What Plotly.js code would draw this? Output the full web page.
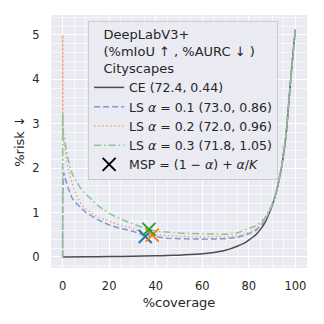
<!DOCTYPE html>
<html><head><meta charset="utf-8">
<script src="https://cdn.plot.ly/plotly-3.0.1.min.js"></script>
<style>html,body{margin:0;padding:0;background:#fff}</style>
</head><body><div id="chart" style="width:324px;height:324px"></div>
<script>
// CE curve
const ceX = [0,10,20,30,40,45,50,55,60,65,68,70,72,75,78,80,83,85,87,90,92,94,96,98,99,100];
const ceY = [0,0.003,0.008,0.015,0.025,0.032,0.04,0.053,0.07,0.1,0.125,0.15,0.18,0.24,0.31,0.38,0.5,0.62,0.78,1.15,1.5,2.0,2.75,4.0,4.6,5.12];
// LS alpha = 0.1
const ls1X = [0,0.05,0.5,1,2,4,6,8,10,15,20,25,30,35,40,45,50,60,70,75,80,83,85,87,90,92,94,96,98,99,100];
const ls1Y = [0,1.4,1.9,1.8,1.6,1.33,1.2,1.1,1.0,0.84,0.72,0.64,0.58,0.49,0.45,0.42,0.41,0.40,0.41,0.44,0.52,0.6,0.7,0.82,1.15,1.5,2.0,2.75,4.0,4.6,5.12];
// LS alpha = 0.2
const ls2X = [0,0.02,0.1,0.5,1,2,3,5,8,10,15,20,25,30,35,40,45,50,60,70,75,80,83,85,87,90,92,94,96,98,99,100];
const ls2Y = [0,5.0,2.8,2.6,2.42,2.1,1.85,1.5,1.18,1.08,0.9,0.8,0.71,0.65,0.54,0.5,0.48,0.46,0.45,0.45,0.47,0.55,0.63,0.72,0.84,1.15,1.5,2.0,2.75,4.0,4.6,5.12];
// LS alpha = 0.3
const ls3X = [0,0.02,0.3,0.6,1,2,3.5,5,8,10,15,20,25,30,35,40,45,50,60,70,75,80,83,85,87,90,92,94,96,98,99,100];
const ls3Y = [0,3.25,2.8,2.72,2.6,2.27,1.95,1.78,1.52,1.42,1.16,0.98,0.85,0.75,0.65,0.58,0.56,0.54,0.52,0.51,0.54,0.63,0.7,0.78,0.88,1.18,1.5,2.0,2.75,4.0,4.6,5.12];
// MSP points
const mspX = [35.5, 38.5, 37.1];
const mspY = [0.46, 0.49, 0.62];
const mspColors = ['#1f77b4','#ff7f0e','#2ca02c'];
const labels = ['CE (72.4, 0.44)','LS <i>α</i> = 0.1 (73.0, 0.86)','LS <i>α</i> = 0.2 (72.0, 0.96)','LS <i>α</i> = 0.3 (71.8, 1.05)','MSP = (1 − <i>α</i>) + <i>α</i>/<i>K</i>'];

const traces = [
 {x:ceX,y:ceY,mode:'lines',name:labels[0],line:{color:'#4d4d4d',width:1.5,shape:'spline',smoothing:0.6}},
 {x:ls1X,y:ls1Y,mode:'lines',name:labels[1],line:{color:'#7b9ad2',width:1.5,dash:'6px,3px'}},
 {x:ls2X,y:ls2Y,mode:'lines',name:labels[2],line:{color:'#f0a582',width:1.5,dash:'1.5px,2.5px'}},
 {x:ls3X,y:ls3Y,mode:'lines',name:labels[3],line:{color:'#86c597',width:1.5,dash:'7px,3px,1.5px,3px'}},
 {x:[null],y:[null],mode:'markers',name:labels[4],marker:{symbol:'x-thin',size:13,color:'#000',line:{color:'#000',width:2}}}
];
mspX.forEach((v,i)=>traces.push({x:[v],y:[mspY[i]],mode:'markers',showlegend:false,
 marker:{symbol:'x-thin',size:13,color:mspColors[i],line:{color:mspColors[i],width:2}}}));

const font = {family:'DejaVu Sans, sans-serif',color:'#262626'};
const layout = {
 width:324,height:324,
 margin:{l:51,r:17,t:15,b:56},
 paper_bgcolor:'#ffffff',plot_bgcolor:'#eaeaf2',
 font:{family:font.family,color:font.color,size:11.5},
 xaxis:{range:[-5,105],tickvals:[0,20,40,60,80,100],ticktext:['0','20','40','60','80','100'],
   showgrid:true,gridcolor:'#ffffff',gridwidth:1,zeroline:false,showline:false,
   ticks:'outside',ticklen:7,tickcolor:'rgba(0,0,0,0)',
   minor:{dtick:5,showgrid:true,gridcolor:'#ffffff',gridwidth:0.6,ticks:''},
   tickfont:{size:11.5},title:{text:'%coverage',font:{size:13},standoff:6}},
 yaxis:{range:[-0.25,5.45],tickvals:[0,1,2,3,4,5],ticktext:['0','1','2','3','4','5'],
   showgrid:true,gridcolor:'#ffffff',gridwidth:1,zeroline:false,showline:false,
   ticks:'outside',ticklen:8,tickcolor:'rgba(0,0,0,0)',
   minor:{dtick:0.2,showgrid:true,gridcolor:'#ffffff',gridwidth:0.6,ticks:''},
   tickfont:{size:11.5},title:{text:'%risk ↓',font:{size:13},standoff:4}},
 legend:{x:0.145,y:0.976,xanchor:'left',yanchor:'top',bgcolor:'rgba(234,234,242,0.85)',
   bordercolor:'#cccccc',borderwidth:1,font:{size:12.5},tracegroupgap:0,
   title:{text:'\u00a0\u00a0\u00a0DeepLabV3+<br>\u00a0\u00a0\u00a0(%mIoU ↑ , %AURC ↓ )<br>\u00a0\u00a0\u00a0Cityscapes',font:{size:13},side:'top'}},
 showlegend:true
};
Plotly.newPlot('chart',traces,layout,{staticPlot:true,displayModeBar:false});
</script></body></html>
